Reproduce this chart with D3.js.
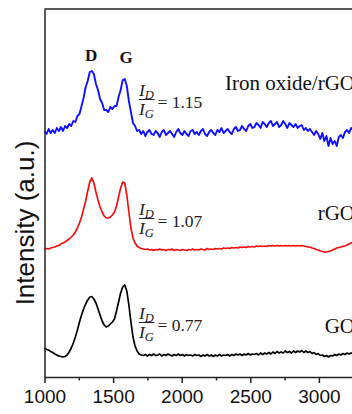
<!DOCTYPE html>
<html>
<head>
<meta charset="utf-8">
<script src="https://cdn.jsdelivr.net/npm/d3@7"></script>
<style>
  html, body { margin: 0; padding: 0; background: #fff; }
  svg { display: block; }
</style>
</head>
<body>
<svg id="chart" width="352" height="414"></svg>
<script>
// Raman spectra of GO, rGO and Iron oxide/rGO (stacked, arbitrary units)
const shift = d3.range(1000, 3251, 15); // Raman shift grid, cm^-1

const ironOxideRGO = [
  246,243,248,244,247,244,249,246,250,246,
  251,249,253,251,256,255,261,263,271,279,
  290,296,305,306,303,293,287,278,274,267,
  267,265,270,268,271,271,280,287,297,298,
  291,276,265,254,251,246,247,243,246,241,
  245,247,243,242,246,244,240,245,247,242,
  244,246,243,240,245,248,244,242,246,243,
  241,246,247,243,245,242,246,248,243,241,
  245,247,244,242,247,245,249,244,246,248,
  245,243,248,250,246,247,251,248,246,251,
  253,249,250,254,252,249,255,253,250,254,
  256,251,253,255,250,252,256,253,249,254,
  252,250,253,249,251,252,247,249,246,248,
  245,242,246,243,238,244,236,241,231,239,
  233,236,231,240,242,239,245,247,244,249,
  247
];

const rGO = [
  128,128.5,128,129,129.5,130,131,131.5,133,134,
  135,136.5,138,140,142,145,149,154,160,168,
  176,186,195,199,194,185,177,170,165,161,
  159,159,160,162,165,171,180,189,195,194,
  182,165,149,139,134,131,129.5,128.5,128,127.5,
  128,127,127.5,126.5,127.5,127,128,127,127.5,126.5,
  127.5,127,128,126.5,127.5,127,126.5,127.5,127,126.5,
  127.5,127,128,127,127.5,127,128,127.5,127,128.5,
  127.5,128,127.5,128.5,128,128.5,128,129,128.5,129,
  128.5,129.5,129,129.5,129,130,129.5,130,129.5,130.5,
  130,130.5,130,131,130.5,131,130.5,131,130.5,131.5,
  131,131.5,131,131.5,131,131.5,131,131.5,131,131.5,
  131,131.5,131,131.5,131,131.5,131,130.5,130,130,
  129,128.5,127.5,127,126,125.5,125,125,125.5,126,
  127,128,129,129.5,130,130.5,131,132,133,134,
  135
];

const GO = [
  29,27.5,27,25.5,24.5,23,22,21,20.5,20,
  20.5,22,25,29,34,40,47,55,62,68,
  73,77,80,80.5,78,74,68,62,56,52,
  50,51,53,55,58,66,75,84,90,92,
  86,72,55,40,31,26,23,22,21.5,22.5,
  21,22.5,21.5,23,21.5,22,23,21,22.5,21.5,
  23,22,21,22.5,21.5,23,21.5,22.5,21,22.5,
  21.5,22,21,22.5,21.5,22,20.5,22,21,22.5,
  21,22,20.5,22,21,22.5,21,22,21.5,22.5,
  21,22.5,21.5,23,22,23,21.5,23,22,23.5,
  22,23,22.5,23.5,22,24,22.5,24,23,24.5,
  23,25,23.5,25.5,24,25,24,26,24.5,25.5,
  24,26,24.5,26,25,26.5,24.5,26,24.5,25.5,
  23.5,24.5,22.5,23.5,21.5,22,20.5,21.5,20,21.5,
  21,22.5,21.5,23,22,23.5,22.5,24,23,24,
  23.5
];

const seriesNames  = ["Iron oxide/rGO", "rGO", "GO"];
const seriesColors = ["#1010ff", "#f01010", "#000000"];
const idigRatios   = [1.15, 1.07, 0.77];

const majorTicks = [1000, 1500, 2000, 2500, 3000];
const minorTicks = [1250, 1750, 2250, 2750];

const peakLabels = [{name: "D", at: 1340}, {name: "G", at: 1595}];

// ---- layout ----
const svg = d3.select("#chart");
const x = d3.scaleLinear().domain([1000, 3500]).range([44.5, 387.5]);
const y = d3.scaleLinear().domain([0, 368]).range([377, 9]);

const serif = "'Liberation Serif','Times New Roman',Times,serif";
const sans  = "'Liberation Sans',Arial,Helvetica,sans-serif";
const axisColor = "#222";

svg.append("rect").attr("width", 352).attr("height", 414).attr("fill", "#fff");

// spectra
const series = [ironOxideRGO, rGO, GO];
const line = d3.line().x((d, i) => x(shift[i])).y(d => y(d));
svg.append("g").selectAll("path")
  .data(series)
  .join("path")
  .attr("d", line)
  .attr("fill", "none")
  .attr("stroke", (d, i) => seriesColors[i])
  .attr("stroke-width", (d, i) => i === 0 ? 1.9 : 1.7)
  .attr("stroke-linejoin", "round");

// frame: top border and left axis
svg.append("line")
  .attr("x1", x(1000)).attr("x2", x(3500))
  .attr("y1", y(368)).attr("y2", y(368))
  .attr("stroke", axisColor).attr("stroke-width", 1.5);

const yAxis = svg.append("g")
  .attr("transform", `translate(${x(1000)},0)`)
  .call(d3.axisLeft(y).tickValues([]).tickSizeOuter(0));
yAxis.select(".domain").attr("stroke", axisColor).attr("stroke-width", 1.5);

// bottom axis with major and minor ticks
const xAxis = svg.append("g")
  .attr("transform", `translate(0,${y(0)})`)
  .call(d3.axisBottom(x).tickValues(majorTicks).tickSize(6).tickSizeOuter(0)
    .tickPadding(6.5).tickFormat(d3.format("d")));
xAxis.select(".domain").attr("stroke", axisColor).attr("stroke-width", 1.5);
xAxis.selectAll(".tick line").attr("stroke", axisColor).attr("stroke-width", 1.5);
xAxis.selectAll(".tick text")
  .attr("fill", "#111")
  .style("font-family", sans)
  .style("font-size", "19px");

const xMinor = svg.append("g")
  .attr("transform", `translate(0,${y(0)})`)
  .call(d3.axisBottom(x).tickValues(minorTicks).tickSize(3.5).tickFormat(""));
xMinor.select(".domain").remove();
xMinor.selectAll(".tick line").attr("stroke", axisColor).attr("stroke-width", 1.5);

// y axis title
svg.append("text")
  .attr("transform", "translate(34,223) rotate(-90)")
  .attr("text-anchor", "middle")
  .style("font-family", sans)
  .style("font-size", "26px")
  .attr("fill", "#111")
  .text("Intensity (a.u.)");

// D and G band labels
svg.append("g").selectAll("text")
  .data(peakLabels)
  .join("text")
  .attr("x", d => x(d.at))
  .attr("y", (d, i) => i === 0 ? 61 : 63)
  .attr("text-anchor", "middle")
  .style("font-family", serif)
  .style("font-weight", "bold")
  .style("font-size", "17px")
  .attr("fill", "#111")
  .text(d => d.name);

// series names
const nameBaselines = [90, 220, 333];
svg.append("g").selectAll("text")
  .data(seriesNames)
  .join("text")
  .attr("x", 355)
  .attr("y", (d, i) => nameBaselines[i])
  .attr("text-anchor", "end")
  .style("font-family", serif)
  .style("font-size", "21px")
  .attr("fill", "#111")
  .text(d => d);

// I_D / I_G ratio annotations
const ratioBaselines = [108, 227, 331];
const fmt = d3.format(".2f");
idigRatios.forEach((r, i) => {
  const g = svg.append("g")
    .attr("transform", `translate(139,${ratioBaselines[i]})`)
    .style("font-family", serif)
    .attr("fill", "#222");
  const bar = -8.5;
  const num = g.append("text").attr("x", 0).attr("y", bar - 4)
    .style("font-size", "17.5px").style("font-style", "italic");
  num.append("tspan").text("I");
  num.append("tspan").attr("dy", 3).style("font-size", "12.5px").text("D");
  g.append("line")
    .attr("x1", 0).attr("x2", 15.5)
    .attr("y1", bar).attr("y2", bar)
    .attr("stroke", "#222").attr("stroke-width", 1);
  const den = g.append("text").attr("x", 0).attr("y", bar + 15)
    .style("font-size", "17.5px").style("font-style", "italic");
  den.append("tspan").text("I");
  den.append("tspan").attr("dy", 3).style("font-size", "12.5px").text("G");
  g.append("text").attr("x", 18.5).attr("y", 0)
    .style("font-size", "17.5px")
    .text("= " + fmt(r));
});
</script>
</body>
</html>
